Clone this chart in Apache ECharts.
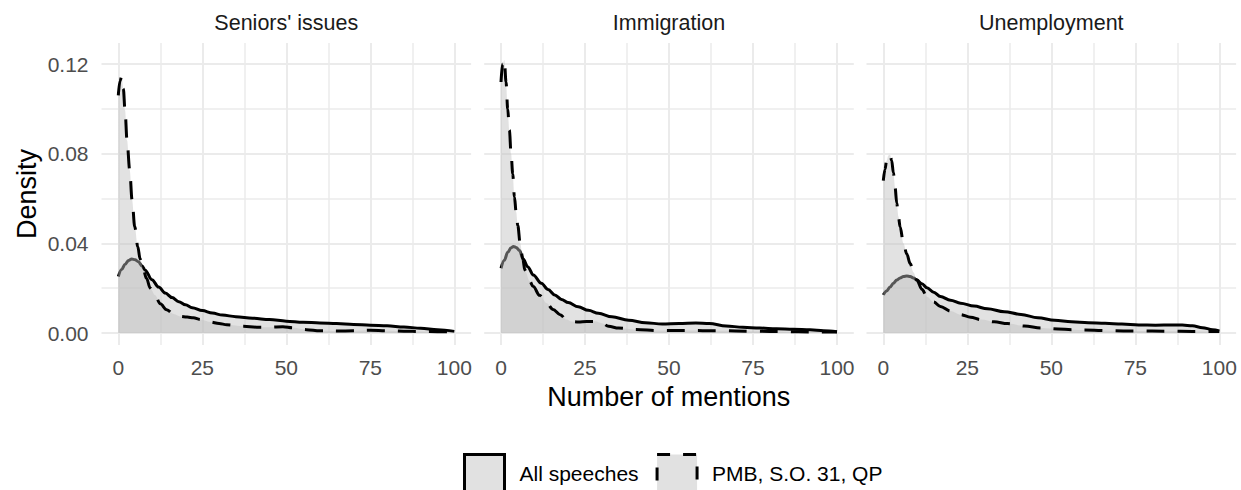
<!DOCTYPE html>
<html>
<head>
<meta charset="utf-8">
<title>Density of mentions by topic</title>
<script src="https://cdn.jsdelivr.net/npm/echarts@6/dist/echarts.min.js"></script>
<style>
  html, body { margin: 0; padding: 0; background: #ffffff; }
  #chart { width: 1241px; height: 490px; }
</style>
</head>
<body>
<div id="chart"></div>
<script>
// Facet titles and legend names
const panelTitles = ["Seniors' issues", 'Immigration', 'Unemployment'];
const groupNames = ['All speeches', 'PMB, S.O. 31, QP'];

// Axis breaks
const xTicks = [0, 25, 50, 75, 100];
const xMinorTicks = [12.5, 37.5, 62.5, 87.5];
const yTicks = [0, 0.04, 0.08, 0.12];
const yMinorTicks = [0.02, 0.06, 0.10];

// Seniors' issues: density estimates
const seniorsAllX = [0, 1, 2, 3, 4, 5, 6, 7, 8, 10, 12, 14, 16, 18, 20, 22, 25, 28, 31, 35, 40, 45, 50, 55, 60, 65, 70, 75, 80, 85, 90, 95, 100];
const seniorsAllY = [0.0252, 0.0283, 0.0307, 0.0323, 0.0330, 0.0327, 0.0318, 0.0300, 0.0280, 0.0238, 0.0205, 0.0178, 0.0158, 0.0140, 0.0126, 0.0113, 0.0100, 0.0089, 0.0080, 0.0073, 0.0066, 0.0060, 0.0053, 0.0048, 0.0045, 0.0042, 0.0038, 0.0035, 0.0032, 0.0027, 0.0021, 0.0014, 0.0007];
const seniorsPmbX = [0, 0.5, 1, 1.5, 2, 2.6, 3.4, 4.1, 4.9, 5.8, 6.5, 7.5, 8.4, 9.5, 10.9, 12.5, 14.4, 16.5, 18.4, 20.5, 22.3, 24.5, 27.3, 30, 32.3, 37.2, 41.2, 45, 49, 52, 56, 60, 65, 70, 75, 80, 85, 90, 95, 100];
const seniorsPmbY = [0.106, 0.1125, 0.1143, 0.109, 0.0995, 0.086, 0.0727, 0.0593, 0.0474, 0.0385, 0.0330, 0.0280, 0.0244, 0.0200, 0.0170, 0.0130, 0.0104, 0.0085, 0.0074, 0.0071, 0.0068, 0.0060, 0.0049, 0.0042, 0.0037, 0.0030, 0.0026, 0.0026, 0.0028, 0.0023, 0.0015, 0.0010, 0.0009, 0.0010, 0.0012, 0.0010, 0.0008, 0.0007, 0.0006, 0.0005];

// Immigration: density estimates
const immigrationAllX = [0, 1, 2, 3, 3.7, 4.5, 5.5, 6.6, 8, 9.6, 12, 14, 16, 18, 20, 23, 26, 29, 33, 38, 43, 48, 53, 58, 62, 67, 72, 77, 82, 87, 92, 96, 100];
const immigrationAllY = [0.0289, 0.0325, 0.0360, 0.0380, 0.0386, 0.0382, 0.0368, 0.0330, 0.0295, 0.0259, 0.0222, 0.0194, 0.0170, 0.0150, 0.0136, 0.0117, 0.0101, 0.0088, 0.0072, 0.0057, 0.0046, 0.0040, 0.0042, 0.0045, 0.0042, 0.0031, 0.0026, 0.0022, 0.0019, 0.0017, 0.0014, 0.0010, 0.0006];
const immigrationPmbX = [0, 0.5, 1, 1.5, 2, 2.5, 3, 3.5, 4, 4.5, 5, 5.7, 6.5, 7.1, 8.5, 9.6, 11.5, 13.6, 15.5, 17.6, 19.5, 21, 23, 25.5, 28, 30, 32, 35, 40, 47, 55, 65, 75, 85, 92, 100];
const immigrationPmbY = [0.112, 0.120, 0.1218, 0.112, 0.100, 0.0905, 0.080, 0.071, 0.0607, 0.054, 0.048, 0.040, 0.033, 0.0281, 0.0232, 0.0207, 0.0168, 0.0133, 0.0105, 0.0082, 0.0060, 0.0051, 0.0049, 0.0051, 0.0052, 0.0044, 0.0030, 0.0022, 0.0016, 0.0011, 0.0011, 0.0010, 0.0008, 0.0006, 0.0005, 0.0004];

// Unemployment: density estimates
const unemploymentAllX = [0, 1, 2, 3, 4, 5, 6, 7, 8, 9, 10, 11.5, 13, 15, 17, 20, 23, 27, 31, 36, 41, 46, 51, 56, 61, 66, 71, 76, 81, 86, 89, 92, 95, 98, 100];
const unemploymentAllY = [0.0170, 0.0188, 0.0205, 0.0222, 0.0236, 0.0246, 0.0252, 0.0254, 0.0252, 0.0245, 0.0236, 0.0220, 0.0202, 0.0182, 0.0163, 0.0146, 0.0133, 0.0120, 0.0108, 0.0095, 0.0083, 0.0068, 0.0057, 0.0050, 0.0046, 0.0043, 0.0040, 0.0036, 0.0035, 0.0036, 0.0036, 0.0032, 0.0024, 0.0015, 0.0009];
const unemploymentPmbX = [0, 0.5, 1, 1.5, 2, 2.5, 3, 3.5, 4, 4.5, 5, 6, 7, 8, 9, 10, 11.5, 13, 15, 17, 20, 23, 26, 29, 33, 37, 42, 47, 52, 56, 60, 68, 75, 85, 92, 100];
const unemploymentPmbY = [0.068, 0.073, 0.077, 0.0792, 0.0795, 0.077, 0.0715, 0.065, 0.058, 0.052, 0.0474, 0.040, 0.0352, 0.031, 0.027, 0.0235, 0.0195, 0.0162, 0.0138, 0.0118, 0.0098, 0.0082, 0.0070, 0.0060, 0.0050, 0.0042, 0.0031, 0.0022, 0.0018, 0.0015, 0.0013, 0.0010, 0.0009, 0.0008, 0.0007, 0.0007];

const panelCurves = [
  [[seniorsAllX, seniorsAllY], [seniorsPmbX, seniorsPmbY]],
  [[immigrationAllX, immigrationAllY], [immigrationPmbX, immigrationPmbY]],
  [[unemploymentAllX, unemploymentAllY], [unemploymentPmbX, unemploymentPmbY]]
];

// Layout of the three facets (pixels)
const FONT = "'Liberation Sans', Arial, Helvetica, sans-serif";
const panelLeft = [101.5, 484.2, 866.5];
const panelWidth = 369.6;
const panelTop = 43;
const panelHeight = 302;
const X_RANGE = [-5, 105];
const Y_RANGE = [-0.00535, 0.1294];

const AREA_FILL = 'rgba(190,190,190,0.45)';
const DASH = [18, 13];

function zip(xs, ys) {
  return xs.map((x, i) => [x, ys[i]]);
}

const grids = [];
const xAxes = [];
const yAxes = [];
const series = [];
const graphics = [];

panelTitles.forEach((title, i) => {
  grids.push({ left: panelLeft[i], top: panelTop, width: panelWidth, height: panelHeight, containLabel: false });

  xAxes.push({
    type: 'value', gridIndex: i, min: X_RANGE[0], max: X_RANGE[1],
    axisLine: { show: false }, axisTick: { show: false }, splitLine: { show: false },
    axisLabel: { customValues: xTicks, fontSize: 21, color: '#4d4d4d', fontFamily: FONT, margin: 12 }
  });

  yAxes.push({
    type: 'value', gridIndex: i, min: Y_RANGE[0], max: Y_RANGE[1],
    axisLine: { show: false }, axisTick: { show: false }, splitLine: { show: false },
    axisLabel: {
      show: i === 0, customValues: yTicks, fontSize: 21, color: '#4d4d4d', fontFamily: FONT, margin: 13,
      formatter: (v) => v.toFixed(2)
    }
  });

  // Panel grid lines, drawn beneath the densities
  const gridLines = [];
  xMinorTicks.forEach(v => gridLines.push({ xAxis: v, lineStyle: { width: 1.5 } }));
  yMinorTicks.forEach(v => gridLines.push({ yAxis: v, lineStyle: { width: 1.5 } }));
  xTicks.forEach(v => gridLines.push({ xAxis: v, lineStyle: { width: 2 } }));
  yTicks.forEach(v => gridLines.push({ yAxis: v, lineStyle: { width: 2 } }));
  series.push({
    type: 'line', name: 'grid' + i, xAxisIndex: i, yAxisIndex: i, data: [], silent: true, z: 0,
    markLine: {
      silent: true, symbol: ['none', 'none'], z: 0, animation: false,
      label: { show: false },
      lineStyle: { color: '#ebebeb', type: 'solid', width: 2 },
      emphasis: { disabled: true },
      data: gridLines
    }
  });

  // Each group draws its fill and outline in turn, so the second fill veils the first outline
  panelCurves[i].forEach(([xs, ys], g) => {
    series.push({
      type: 'line', name: groupNames[g], xAxisIndex: i, yAxisIndex: i,
      data: zip(xs, ys),
      smooth: 0.35, smoothMonotone: 'x',
      showSymbol: false, symbol: 'none', silent: true, z: 2 + g,
      lineStyle: { color: '#000000', width: 3, type: g === 0 ? 'solid' : DASH, cap: 'butt', join: 'round' },
      itemStyle: { color: '#e1e1e1' },
      areaStyle: { color: AREA_FILL, opacity: 1 },
      emphasis: { disabled: true }
    });
  });

  graphics.push({
    type: 'text', x: panelLeft[i] + panelWidth / 2, y: 23,
    style: { text: title, font: '21.5px ' + FONT, fill: '#1a1a1a', align: 'center', verticalAlign: 'middle' }
  });
});

// Shared axis titles
graphics.push({
  type: 'text', x: (panelLeft[0] + panelLeft[2] + panelWidth) / 2, y: 397,
  style: { text: 'Number of mentions', font: '27px ' + FONT, fill: '#000000', align: 'center', verticalAlign: 'middle' }
});
graphics.push({
  type: 'text', x: 27, y: panelTop + panelHeight / 2, rotation: Math.PI / 2,
  style: { text: 'Density', font: '27px ' + FONT, fill: '#000000', align: 'center', verticalAlign: 'middle' }
});

const chart = echarts.init(document.getElementById('chart'), null, { renderer: 'svg', width: 1241, height: 490 });
chart.setOption({
  backgroundColor: '#ffffff',
  animation: false,
  grid: grids,
  xAxis: xAxes,
  yAxis: yAxes,
  series: series,
  graphic: graphics,
  legend: {
    left: 463, top: 453, orient: 'horizontal', padding: 0,
    itemWidth: 40, itemHeight: 38, itemGap: 17,
    selectedMode: false,
    textStyle: { fontSize: 21, color: '#000000', fontFamily: FONT, padding: [0, 0, 0, 10] },
    data: [
      { name: groupNames[0], icon: 'rect', itemStyle: { color: '#e1e1e1', borderColor: '#000000', borderWidth: 3 } },
      { name: groupNames[1], icon: 'rect', itemStyle: { color: '#e1e1e1', borderColor: '#000000', borderWidth: 3, borderType: [13, 13] } }
    ]
  }
});
</script>
</body>
</html>
